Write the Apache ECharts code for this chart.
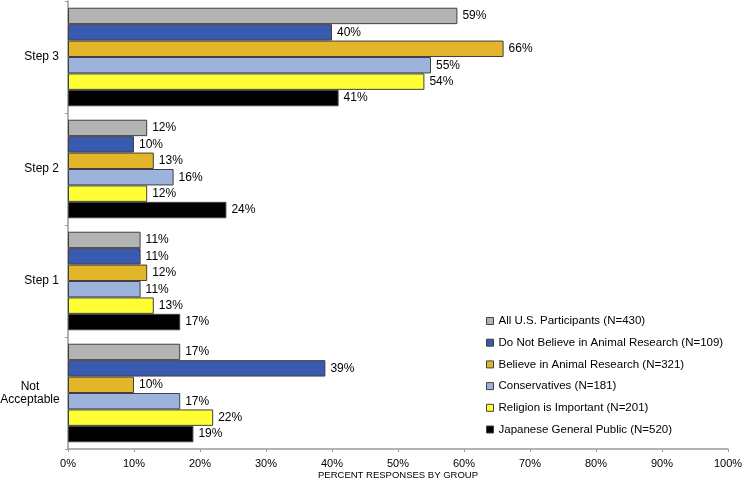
<!DOCTYPE html>
<html><head><meta charset="utf-8">
<script src="https://cdn.jsdelivr.net/npm/echarts@6/dist/echarts.min.js"></script>
<style>html,body{margin:0;padding:0;background:#fff}#c{width:744px;height:481px}</style>
</head><body><div id="c"></div>
<script>
const categories = ['Step 3', 'Step 2', 'Step 1', 'Not\nAcceptable'];
const seriesNames = ['All U.S. Participants (N=430)', 'Do Not Believe in Animal Research (N=109)', 'Believe in Animal Research (N=321)', 'Conservatives (N=181)', 'Religion is Important (N=201)', 'Japanese General Public (N=520)'];
const allUS = [59, 12, 11, 17];
const notBelieve = [40, 10, 11, 39];
const believe = [66, 13, 12, 10];
const conservatives = [55, 16, 11, 17];
const religion = [54, 12, 13, 22];
const japanese = [41, 24, 17, 19];
const xTicks = [0, 10, 20, 30, 40, 50, 60, 70, 80, 90, 100];
const colors = ['#b3b3b3', '#3a5ab0', '#e3b52a', '#9cb4dc', '#ffff33', '#000000'];
const data = [allUS, notBelieve, believe, conservatives, religion, japanese];
const font = 'Liberation Sans, Arial, sans-serif';
const chart = echarts.init(document.getElementById('c'));
chart.setOption({
  animation: false,
  grid: {left: 68, right: 16, top: 1, bottom: 32, outerBoundsMode: 'none', containLabel: false},
  legend: {
    orient: 'vertical', left: 481, top: 309, itemGap: 7.7, itemWidth: 7, itemHeight: 7,
    icon: 'rect', textStyle: {fontFamily: font, fontSize: 11.5, lineHeight: 14, color: '#000'},
    data: seriesNames.map((n, i) => ({name: n, itemStyle: {borderColor: '#404040', borderWidth: 1}}))
  },
  xAxis: {
    type: 'value', min: xTicks[0], max: xTicks[xTicks.length - 1], interval: 10,
    name: 'PERCENT RESPONSES BY GROUP', nameLocation: 'middle', nameGap: 26, nameMoveOverlap: false,
    nameTextStyle: {fontFamily: font, fontSize: 9.5, color: '#000', verticalAlign: 'middle'},
    axisLine: {show: true, lineStyle: {color: '#999', width: 1.5}},
    axisTick: {show: true, length: 3, lineStyle: {color: '#999'}},
    splitLine: {show: false},
    axisLabel: {fontFamily: font, fontSize: 11, color: '#000', margin: 9, formatter: v => v + '%'}
  },
  yAxis: {
    type: 'category', inverse: true, data: categories,
    axisLine: {show: true, lineStyle: {color: '#999', width: 1.5}},
    axisTick: {show: true, length: 3, lineStyle: {color: '#999'}},
    axisLabel: {
      fontFamily: font, fontSize: 12, color: '#000', margin: 9, align: 'right',
      formatter: v => v.indexOf('\n') < 0 ? v : v.split('\n').map(s => '{c|' + s + '}').join('\n'),
      rich: {c: {fontFamily: font, fontSize: 12, color: '#000', width: 58, align: 'center', lineHeight: 13.5}}
    }
  },
  series: data.map((d, i) => ({
    name: seriesNames[i], type: 'bar', data: d, barGap: '0%', barCategoryGap: '12%',
    itemStyle: {color: colors[i], borderColor: '#404040', borderWidth: 1},
    label: {show: true, position: 'right', distance: 5, fontFamily: font, fontSize: 12, color: '#000', formatter: p => p.value + '%'}
  }))
});
</script></body></html>
